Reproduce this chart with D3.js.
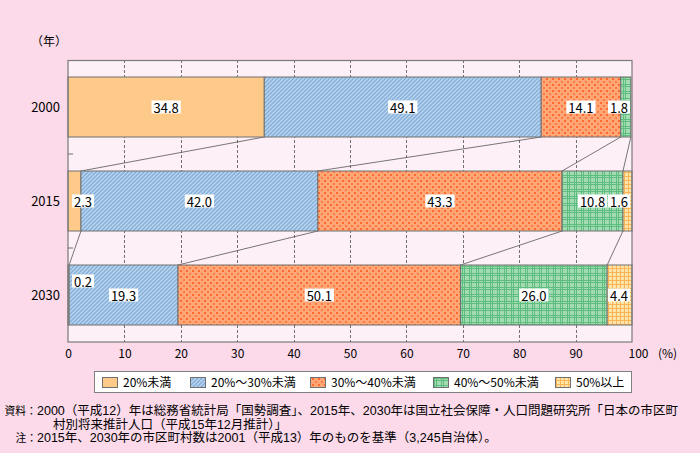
<!DOCTYPE html>
<html><head><meta charset="utf-8">
<script src="https://cdn.jsdelivr.net/npm/d3@7"></script>
<style>
html,body{margin:0;padding:0;background:#fcdaea;}
svg{display:block;font-family:"Noto Sans CJK JP","Noto Sans",sans-serif;}
</style></head>
<body><svg id="c" width="700" height="453"></svg>
<script>
// ---- data ----
const years = ["2000", "2015", "2030"];
const categories = ["20%未満", "20%～30%未満", "30%～40%未満", "40%～50%未満", "50%以上"];
const under20 = [34.8, 2.3, 0.2];
const from20to30 = [49.1, 42.0, 19.3];
const from30to40 = [14.1, 43.3, 50.1];
const from40to50 = [1.8, 10.8, 26.0];
const over50 = [0.0, 1.6, 4.4];
const xTicks = [0, 10, 20, 30, 40, 50, 60, 70, 80, 90, 100];
const yearUnit = "（年）";
const pctUnit = "(%)";
const notes = [
  "資料：",
  "2000（平成12）年は総務省統計局「国勢調査」、2015年、2030年は国立社会保障・人口問題研究所「日本の市区町",
  "村別将来推計人口（平成15年12月推計）」",
  "注：",
  "2015年、2030年の市区町村数は2001（平成13）年のものを基準（3,245自治体）。"
];
const seriesValues = [under20, from20to30, from30to40, from40to50, over50];
const patternIds = ["p0", "p1", "p2", "p3", "p4"];

const svg = d3.select("#c");
const defs = svg.append("defs");

// patterns
(function(){
  let p = defs.append("pattern").attr("id","p0").attr("width",4).attr("height",4).attr("patternUnits","userSpaceOnUse");
  p.append("rect").attr("width",4).attr("height",4).attr("fill","#fdca8a");

  p = defs.append("pattern").attr("id","p1").attr("width",4).attr("height",4).attr("patternUnits","userSpaceOnUse");
  p.append("rect").attr("width",4).attr("height",4).attr("fill","#c2daf0");
  p.append("path").attr("d","M-1,1 L1,-1 M0,4 L4,0 M3,5 L5,3").attr("stroke","#88b2dc").attr("stroke-width",1.6);

  p = defs.append("pattern").attr("id","p2").attr("width",6).attr("height",6).attr("patternUnits","userSpaceOnUse");
  p.append("rect").attr("width",6).attr("height",6).attr("fill","#ffa677");
  p.append("rect").attr("x",0).attr("y",0).attr("width",2).attr("height",2).attr("fill","#ff6a30");
  p.append("rect").attr("x",3).attr("y",3).attr("width",2).attr("height",2).attr("fill","#ff7a40");

  p = defs.append("pattern").attr("id","p3").attr("width",7).attr("height",7).attr("patternUnits","userSpaceOnUse");
  p.append("rect").attr("width",7).attr("height",7).attr("fill","#a3dcb2");
  p.append("path").attr("d","M0,0.5 H7 M0,2.5 H7 M0.5,0 V7 M2.5,0 V7").attr("stroke","#5fbd80").attr("stroke-width",1);

  p = defs.append("pattern").attr("id","p4").attr("width",4).attr("height",4).attr("patternUnits","userSpaceOnUse");
  p.append("rect").attr("width",4).attr("height",4).attr("fill","#fee6a8");
  p.append("path").attr("d","M0,0.5 H4 M0.5,0 V4").attr("stroke","#fbb45a").attr("stroke-width",1);
})();

// scales
const x = d3.scaleLinear().domain([0, 100]).range([68, 632]);
const y = d3.scaleBand().domain(years).range([60, 342]).paddingInner(34/94).paddingOuter(17/94);

// plot bg
svg.append("rect").attr("x", x(0)).attr("y", 60).attr("width", x(100)-x(0)).attr("height", 282).attr("fill", "#fdf0f7");

// grid
svg.append("g").selectAll("line").data(xTicks.slice(1, -1)).join("line")
  .attr("x1", d => Math.round(x(d))+0.5).attr("x2", d => Math.round(x(d))+0.5)
  .attr("y1", 60).attr("y2", 342)
  .attr("stroke", "#707070").attr("stroke-dasharray", "3,2").attr("stroke-width", 1);

// stacked data
const stacks = years.map((yr, i) => {
  let c = 0;
  return seriesValues.map((s, k) => {
    const v = s[i]; const seg = {year: yr, k, v, x0: c, x1: c + v}; c += v; return seg;
  });
});

// connector lines
const conn = svg.append("g");
for (let i = 0; i < years.length - 1; i++) {
  for (let k = 0; k < categories.length - 1; k++) {
    conn.append("line")
      .attr("x1", x(stacks[i][k].x1)).attr("y1", y(years[i]) + y.bandwidth())
      .attr("x2", x(stacks[i+1][k].x1)).attr("y2", y(years[i+1]))
      .attr("stroke", "#555").attr("stroke-width", 0.8);
  }
}

// bars
const barsG = svg.append("g");
stacks.forEach(row => {
  barsG.selectAll(null).data(row.filter(d => d.v > 0)).join("rect")
    .attr("x", d => x(d.x0)).attr("y", d => y(d.year))
    .attr("width", d => x(d.x1) - x(d.x0)).attr("height", y.bandwidth())
    .attr("fill", d => `url(#${patternIds[d.k]})`)
    .attr("stroke", "#707070").attr("stroke-width", 1);
});

// frame
svg.append("rect").attr("x", x(0)).attr("y", 60.5).attr("width", x(100)-x(0)).attr("height", 281.5)
  .attr("fill", "none").attr("stroke", "#7a7a7a").attr("stroke-width", 1.2);

// left inner ticks at band boundaries
svg.append("g").selectAll("line").data(years.slice(1)).join("line")
  .attr("x1", x(0)).attr("x2", x(0) + 5)
  .attr("y1", d => y(d) - 17).attr("y2", d => y(d) - 17)
  .attr("stroke", "#707070");

// labels
const labG = svg.append("g").attr("font-size", 13);
stacks.forEach(row => {
  row.filter(d => d.v > 0).forEach(d => {
    const g = labG.append("g");
    const t = g.append("text").text(d3.format(".1f")(d.v)).attr("text-anchor", "middle")
      .attr("dominant-baseline", "central").attr("fill", "#000");
    const w = t.node().getComputedTextLength() + 4;
    let cx = (x(d.x0) + x(d.x1)) / 2;
    cx = Math.max(cx, x(0) + 4 + w / 2);
    cx = Math.min(cx, x(100) - 2 - w / 2);
    let cy = y(d.year) + y.bandwidth() / 2;
    if (d.v < 1 && d.k === 0) cy -= 14;
    t.attr("x", cx).attr("y", cy + 0.5);
    g.insert("rect", "text").attr("x", cx - w / 2).attr("y", cy - 6.5).attr("width", w).attr("height", 13).attr("fill", "#fff");
  });
});

// y labels
svg.append("g").selectAll("text").data(years).join("text")
  .attr("x", 60).attr("y", d => y(d) + y.bandwidth() / 2).attr("dy", "0.35em")
  .attr("text-anchor", "end").attr("font-size", 13).text(d => d);
svg.append("text").attr("x", 49).attr("y", 42).attr("dy", "0.35em").attr("text-anchor", "middle")
  .attr("font-size", 12).text(yearUnit);

// x axis
const xAxis = d3.axisBottom(x).tickValues(xTicks).tickSize(0).tickPadding(7).tickFormat(d3.format("d"));
const ax = svg.append("g").attr("transform", "translate(0,342)").call(xAxis);
ax.select(".domain").remove();
ax.selectAll("text").attr("font-size", 12).attr("font-family", "'Noto Sans CJK JP',sans-serif").attr("fill", "#000");
ax.selectAll(".tick").filter(d => d === 100).select("text").attr("dx", 6);
svg.append("text").attr("x", 658).attr("y", 354).attr("dy", "0.35em").attr("font-size", 12).text(pctUnit);

// legend
const lg = svg.append("g");
lg.append("rect").attr("x", 94.5).attr("y", 371.5).attr("width", 537).attr("height", 21)
  .attr("fill", "#fff").attr("stroke", "#808080");
const legendX = [102, 190, 310, 433, 555];
categories.forEach((c, i) => {
  lg.append("rect").attr("x", legendX[i] + 0.5).attr("y", 377.5).attr("width", 15).attr("height", 10)
    .attr("fill", `url(#${patternIds[i]})`).attr("stroke", "#707070");
  lg.append("text").attr("x", legendX[i] + 21).attr("y", 382.5).attr("dy", "0.35em")
    .attr("font-size", 12).text(c);
});

// notes
const ng = svg.append("g").attr("fill", "#000")
  .style("font-family", "'Liberation Sans','Noto Sans CJK JP',sans-serif");
const noteLine = (xx, yy, s, fs) => ng.append("text").attr("x", xx).attr("y", yy).attr("font-size", fs).text(s);
noteLine(4.5, 415, notes[0], 10.8);
noteLine(37, 415, notes[1], 12.5);
noteLine(53, 428.5, notes[2], 12.5);
noteLine(15.5, 442, notes[3], 10.8);
noteLine(37, 442, notes[4], 12.5);
</script></body></html>
